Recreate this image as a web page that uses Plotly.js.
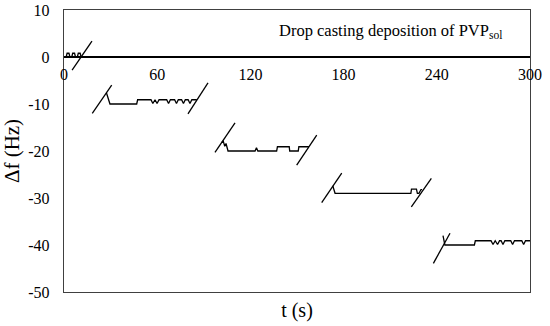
<!DOCTYPE html>
<html>
<head>
<meta charset="utf-8">
<script src="https://cdn.plot.ly/plotly-3.0.1.min.js"></script>
<style>html,body{margin:0;padding:0;background:#fff}#chart{width:550px;height:326px}</style>
</head>
<body>
<div id="chart"></div>
<script>
// Frequency trace (s, Hz); null separates the pasted segments
const traceT = [
  0, 1.4, 2.0, 3.2, 3.8, 5.0, 5.6, 6.8, 7.4, 8.6, 9.2, 10.4, 11.0, 13, null,
  27.3, 29.6, 46.8, 47.4, 56.0, 57.2, 58.6, 59.9, 61.2, 62.5, 66.1, 67.3, 68.5, 71.2, 72.4, 73.6, 75.7, 76.9, 78.1, 79.9, 81.1, 82.3, 85.5, null,
  101.5, 102.5, 103.5, 104.3, 105.6, 123.0, 123.9, 124.8, 136.9, 137.4, 145.0, 145.3, 150.8, 151.2, 157.7, null,
  173.0, 174.5, 223.3, 223.7, 226.9, 227.5, 228.5, 229.8, 230.5, null,
  244.0, 245.2, 264.2, 264.8, 274.9, 276.2, 277.6, 279.1, 280.4, 281.4, 282.6, 283.8, 287.6, 288.8, 290.0, 294.7, 295.9, 297.1, 300
];
const traceF = [
  0, 0, 0.8, 0.8, 0, 0, 0.8, 0.8, 0, 0, 0.8, 0.8, 0, 0, null,
  -7.6, -10.0, -10.0, -9.1, -9.1, -9.9, -9.1, -9.9, -9.1, -9.1, -9.1, -9.9, -9.1, -9.1, -9.9, -9.1, -9.1, -9.9, -9.1, -9.1, -9.9, -9.1, -9.1, null,
  -18.2, -17.9, -19.0, -18.4, -20.0, -20.0, -19.3, -20.0, -20.0, -19.1, -19.1, -20.0, -20.0, -19.1, -19.1, null,
  -27.4, -29.0, -29.0, -28.1, -28.1, -29.0, -29.0, -28.2, -28.2, null,
  -38.0, -40.0, -40.0, -39.1, -39.1, -39.9, -39.1, -39.9, -39.1, -39.1, -39.9, -39.1, -39.1, -39.9, -39.1, -39.1, -39.9, -39.1, -39.1
];
// Axis-break slash marks (s, Hz)
const breakT = [5.2, 18.0, null, 18.2, 30.7, null, 79.8, 92.7, null, 97.2, 110.1, null, 149.8, 162.7, null, 165.9, 178.8, null, 223.6, 236.5, null, 237.8, 248.5];
const breakF = [-2.8, 3.4, null, -12.0, -6.0, null, -12.1, -5.5, null, -20.3, -14.0, null, -23.0, -16.6, null, -31.0, -24.7, null, -31.9, -25.8, null, -43.9, -37.5];
const xTicks = [0, 60, 120, 180, 240, 300];
const yTicks = [-50, -40, -30, -20, -10, 0, 10];
const yTickText = ['-50', '-40', '-30', '-20', '-10', '0', '10'];
const label = 'Drop casting deposition of PVP<sub>sol</sub>';

const font = 'Liberation Serif';
const data = [
  {x: traceT, y: traceF, type: 'scatter', mode: 'lines', line: {color: '#000', width: 1.3}, connectgaps: false, hoverinfo: 'skip'},
  {x: breakT, y: breakF, type: 'scatter', mode: 'lines', line: {color: '#000', width: 1.3}, connectgaps: false, hoverinfo: 'skip'},
  {x: [0], y: [null], xaxis: 'x2', type: 'scatter', mode: 'lines', hoverinfo: 'skip'}
];
const layout = {
  width: 550, height: 326,
  margin: {l: 64, r: 20, t: 10, b: 34},
  paper_bgcolor: '#fff', plot_bgcolor: '#fff',
  showlegend: false,
  font: {family: font, color: '#000', size: 16},
  xaxis: {
    range: [0, 300], showticklabels: false, ticks: '', showgrid: false, zeroline: false,
    showline: true, mirror: true, linecolor: '#404040', linewidth: 1.3,
    title: {text: 't (s)', font: {family: font, size: 20, color: '#000'}, standoff: 10}
  },
  xaxis2: {
    range: [0, 300], overlaying: 'x', anchor: 'free', position: 0.8333,
    tickvals: xTicks, ticktext: xTicks.map(String), ticks: '', showgrid: false, zeroline: false,
    showline: false, tickfont: {family: font, size: 16, color: '#000'}, ticklabelstandoff: 6
  },
  yaxis: {
    range: [-50, 10], tickvals: yTicks, ticktext: yTickText, ticks: '', showgrid: false,
    zeroline: true, zerolinecolor: '#000', zerolinewidth: 1.3,
    showline: true, mirror: true, linecolor: '#404040', linewidth: 1.3,
    tickfont: {family: font, size: 16, color: '#000'}, ticklabelstandoff: 10,
    title: {text: 'Δf (Hz)', font: {family: font, size: 21, color: '#000'}, standoff: 10}
  },
  annotations: [{
    xref: 'paper', yref: 'paper', x: 0.70, y: 0.925, xanchor: 'center', yanchor: 'middle',
    text: label, showarrow: false, font: {family: font, size: 16.5, color: '#000'}
  }]
};
Plotly.newPlot('chart', data, layout, {staticPlot: true, displayModeBar: false});
</script>
</body>
</html>
